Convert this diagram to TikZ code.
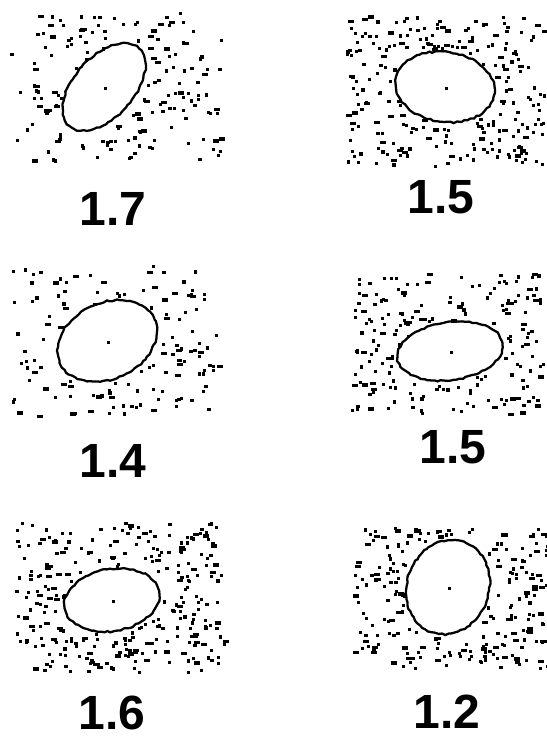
\documentclass[tikz,border=0pt]{standalone}
\usepackage{fontspec}
\setmainfont{Liberation Sans}
\usetikzlibrary{decorations.pathmorphing}

\begin{document}
\begin{tikzpicture}[
  x=0.75pt, y=-0.75pt,
  speck/.style={fill=black},
  outline/.style={
    draw=black, line width=1.7pt, decorate,
    decoration={random steps, segment length=2.5pt, amplitude=0.6pt}
  },
  score/.style={font=\bfseries\fontsize{36}{36}\selectfont, inner sep=0pt},
]
\useasboundingbox (0,0) rectangle (546,738);
\pgfmathsetseed{4217}

%% ── Panels: centre / tilt / radii / dot field / label ───────────────────────
\foreach \nm/\cx/\cy/\ang/\ra/\rb/\xa/\xb/\ya/\yb/\num/\lx/\ly/\val in {
  pa/104/87/48/52/30/10/220/12/160/190/113/209/1.7,
  pb/445/87/-8/50/35/346/543/15/165/300/441/197/1.5,
  pc/107/341/25/52/38/12/220/265/415/160/113/461/1.4,
  pd/450/351/8/53/29/350/543/273/413/240/453/447/1.5,
  pe/112/600/10/48/31/15/223/522/672/340/112/713/1.6,
  pf/448/587/70/48/41/353/546/527/667/290/447/712/1.2}
{
  % scattered dots, kept out of the ellipse
  \foreach \i in {1,...,\num} {
    \pgfmathsetmacro\px{\xa+rnd*(\xb-\xa)}
    \pgfmathsetmacro\py{\ya+rnd*(\yb-\ya)}
    \pgfmathsetmacro\uu{((\px-\cx)*cos(\ang)-(\py-\cy)*sin(\ang))/\ra}
    \pgfmathsetmacro\vv{((\px-\cx)*sin(\ang)+(\py-\cy)*cos(\ang))/\rb}
    \pgfmathsetmacro\rr{\uu*\uu+\vv*\vv}
    \pgfmathsetmacro\ww{rnd<0.2 ? 6 : 3.2}
    \ifdim\rr pt>1.12pt
      \fill[speck] (\px,\py) rectangle ++(\ww,3.2);
    \fi
  }
  % contour and centre mark
  \draw[outline, rotate around={\ang:(\cx,\cy)}]
    (\cx,\cy) ellipse [x radius=\ra, y radius=\rb];
  \fill[speck] (\cx,\cy) rectangle ++(3,3);
  \node[score] (\nm) at (\lx,\ly) {\val};
}

\end{tikzpicture}
\end{document}
